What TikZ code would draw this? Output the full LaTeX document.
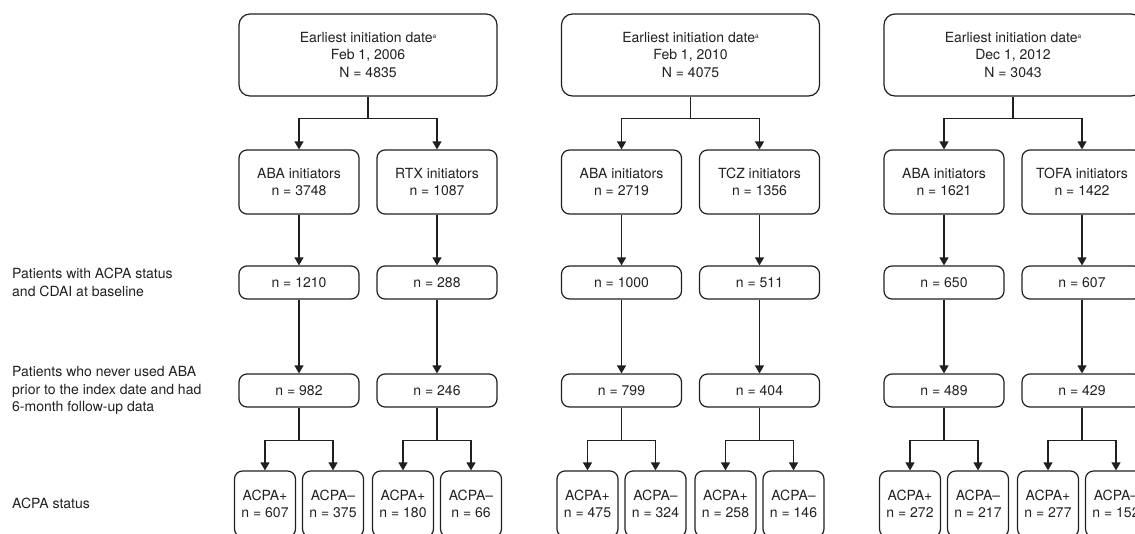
\documentclass[tikz,border=0pt]{standalone}
\usepackage{fontspec}
\setmainfont{TeX Gyre Heros}
\usetikzlibrary{arrows.meta}
\definecolor{ink}{HTML}{231F20}
\newcommand{\supa}{\raisebox{0.3em}{\fontsize{6.5}{7}\selectfont a}}

\begin{document}
\begin{tikzpicture}[x=1pt,y=-1pt,
    every node/.style={font=\fontsize{14}{17.5}\selectfont,text=ink,align=center,inner sep=0pt},
    box/.style={draw=ink,line width=1.2pt},
    topbox/.style={box,rounded corners=11pt,minimum width=258pt,minimum height=82pt},
    drugbox/.style={box,rounded corners=8pt,minimum width=120pt,minimum height=64pt},
    countbox/.style={box,rounded corners=8pt,minimum width=120pt,minimum height=33pt},
    acpabox/.style={box,rounded corners=8pt,minimum width=61pt,minimum height=66pt},
    sidetext/.style={anchor=west,align=left},
    flow/.style={draw=ink,line width=1.2pt,-{Triangle[width=9pt,length=8pt]}}]
        \useasboundingbox (0,0) rectangle (1135,533);
        \clip (0,0) rectangle (1135,533);
        %% Row labels, on left
        \node[sidetext] (labBase) at (12,282.5) {Patients with ACPA status\\and CDAI at baseline};
        \node[sidetext] (labFollow) at (12,390.5) {Patients who never used ABA\\prior to the index date and had\\6-month follow-up data};
        \node[sidetext] (labStatus) at (12,503) {ACPA status};
        %% Cohort A, ABA vs RTX
        \node[topbox] (startA) at (368,55) {Earliest initiation date\supa\\Feb 1, 2006\\N = 4835};
        \node[drugbox] (abaA) at (299,182) {ABA initiators\\n = 3748};
        \node[drugbox] (rtxA) at (437,182) {RTX initiators\\n = 1087};
        \node[countbox] (baseA1) at (299,282.5) {n = 1210};
        \node[countbox] (baseA2) at (437,282.5) {n = 288};
        \node[countbox] (followA1) at (299,390.5) {n = 982};
        \node[countbox] (followA2) at (437,390.5) {n = 246};
        \node[acpabox] (posA1) at (265,504) {ACPA+\\n = 607};
        \node[acpabox] (negA1) at (333,504) {ACPA--\\n = 375};
        \node[acpabox] (posA2) at (403,504) {ACPA+\\n = 180};
        \node[acpabox] (negA2) at (471,504) {ACPA--\\n = 66};
        \draw[flow] (startA.south) -- ++(0,22) -| (abaA.north);
        \draw[flow] (startA.south) -- ++(0,22) -| (rtxA.north);
        \draw[flow] (abaA.south) -- (baseA1.north);
        \draw[flow] (rtxA.south) -- (baseA2.north);
        \draw[flow] (baseA1.south) -- (followA1.north);
        \draw[flow] (baseA2.south) -- (followA2.north);
        \draw[flow] (followA1.south) -- ++(0,33) -| (posA1.north);
        \draw[flow] (followA1.south) -- ++(0,33) -| (negA1.north);
        \draw[flow] (followA2.south) -- ++(0,33) -| (posA2.north);
        \draw[flow] (followA2.south) -- ++(0,33) -| (negA2.north);
        %% Cohort B, ABA vs TCZ
        \node[topbox] (startB) at (690.5,55) {Earliest initiation date\supa\\Feb 1, 2010\\N = 4075};
        \node[drugbox] (abaB) at (621.5,182) {ABA initiators\\n = 2719};
        \node[drugbox] (tczB) at (759.5,182) {TCZ initiators\\n = 1356};
        \node[countbox] (baseB1) at (621.5,282.5) {n = 1000};
        \node[countbox] (baseB2) at (759.5,282.5) {n = 511};
        \node[countbox] (followB1) at (621.5,390.5) {n = 799};
        \node[countbox] (followB2) at (759.5,390.5) {n = 404};
        \node[acpabox] (posB1) at (587.5,504) {ACPA+\\n = 475};
        \node[acpabox] (negB1) at (655.5,504) {ACPA--\\n = 324};
        \node[acpabox] (posB2) at (725.5,504) {ACPA+\\n = 258};
        \node[acpabox] (negB2) at (793.5,504) {ACPA--\\n = 146};
        \draw[flow] (startB.south) -- ++(0,22) -| (abaB.north);
        \draw[flow] (startB.south) -- ++(0,22) -| (tczB.north);
        \draw[flow] (abaB.south) -- (baseB1.north);
        \draw[flow] (tczB.south) -- (baseB2.north);
        \draw[flow] (baseB1.south) -- (followB1.north);
        \draw[flow] (baseB2.south) -- (followB2.north);
        \draw[flow] (followB1.south) -- ++(0,33) -| (posB1.north);
        \draw[flow] (followB1.south) -- ++(0,33) -| (negB1.north);
        \draw[flow] (followB2.south) -- ++(0,33) -| (posB2.north);
        \draw[flow] (followB2.south) -- ++(0,33) -| (negB2.north);
        %% Cohort C, ABA vs TOFA, cut at right edge
        \node[topbox] (startC) at (1013,55) {Earliest initiation date\supa\\Dec 1, 2012\\N = 3043};
        \node[drugbox] (abaC) at (944,182) {ABA initiators\\n = 1621};
        \node[drugbox] (tofaC) at (1082,182) {TOFA initiators\\n = 1422};
        \node[countbox] (baseC1) at (944,282.5) {n = 650};
        \node[countbox] (baseC2) at (1082,282.5) {n = 607};
        \node[countbox] (followC1) at (944,390.5) {n = 489};
        \node[countbox] (followC2) at (1082,390.5) {n = 429};
        \node[acpabox] (posC1) at (910,504) {ACPA+\\n = 272};
        \node[acpabox] (negC1) at (978,504) {ACPA--\\n = 217};
        \node[acpabox] (posC2) at (1048,504) {ACPA+\\n = 277};
        \node[acpabox] (negC2) at (1116,504) {ACPA--\\n = 152};
        \draw[flow] (startC.south) -- ++(0,22) -| (abaC.north);
        \draw[flow] (startC.south) -- ++(0,22) -| (tofaC.north);
        \draw[flow] (abaC.south) -- (baseC1.north);
        \draw[flow] (tofaC.south) -- (baseC2.north);
        \draw[flow] (baseC1.south) -- (followC1.north);
        \draw[flow] (baseC2.south) -- (followC2.north);
        \draw[flow] (followC1.south) -- ++(0,33) -| (posC1.north);
        \draw[flow] (followC1.south) -- ++(0,33) -| (negC1.north);
        \draw[flow] (followC2.south) -- ++(0,33) -| (posC2.north);
        \draw[flow] (followC2.south) -- ++(0,33) -| (negC2.north);
\end{tikzpicture}
\end{document}
